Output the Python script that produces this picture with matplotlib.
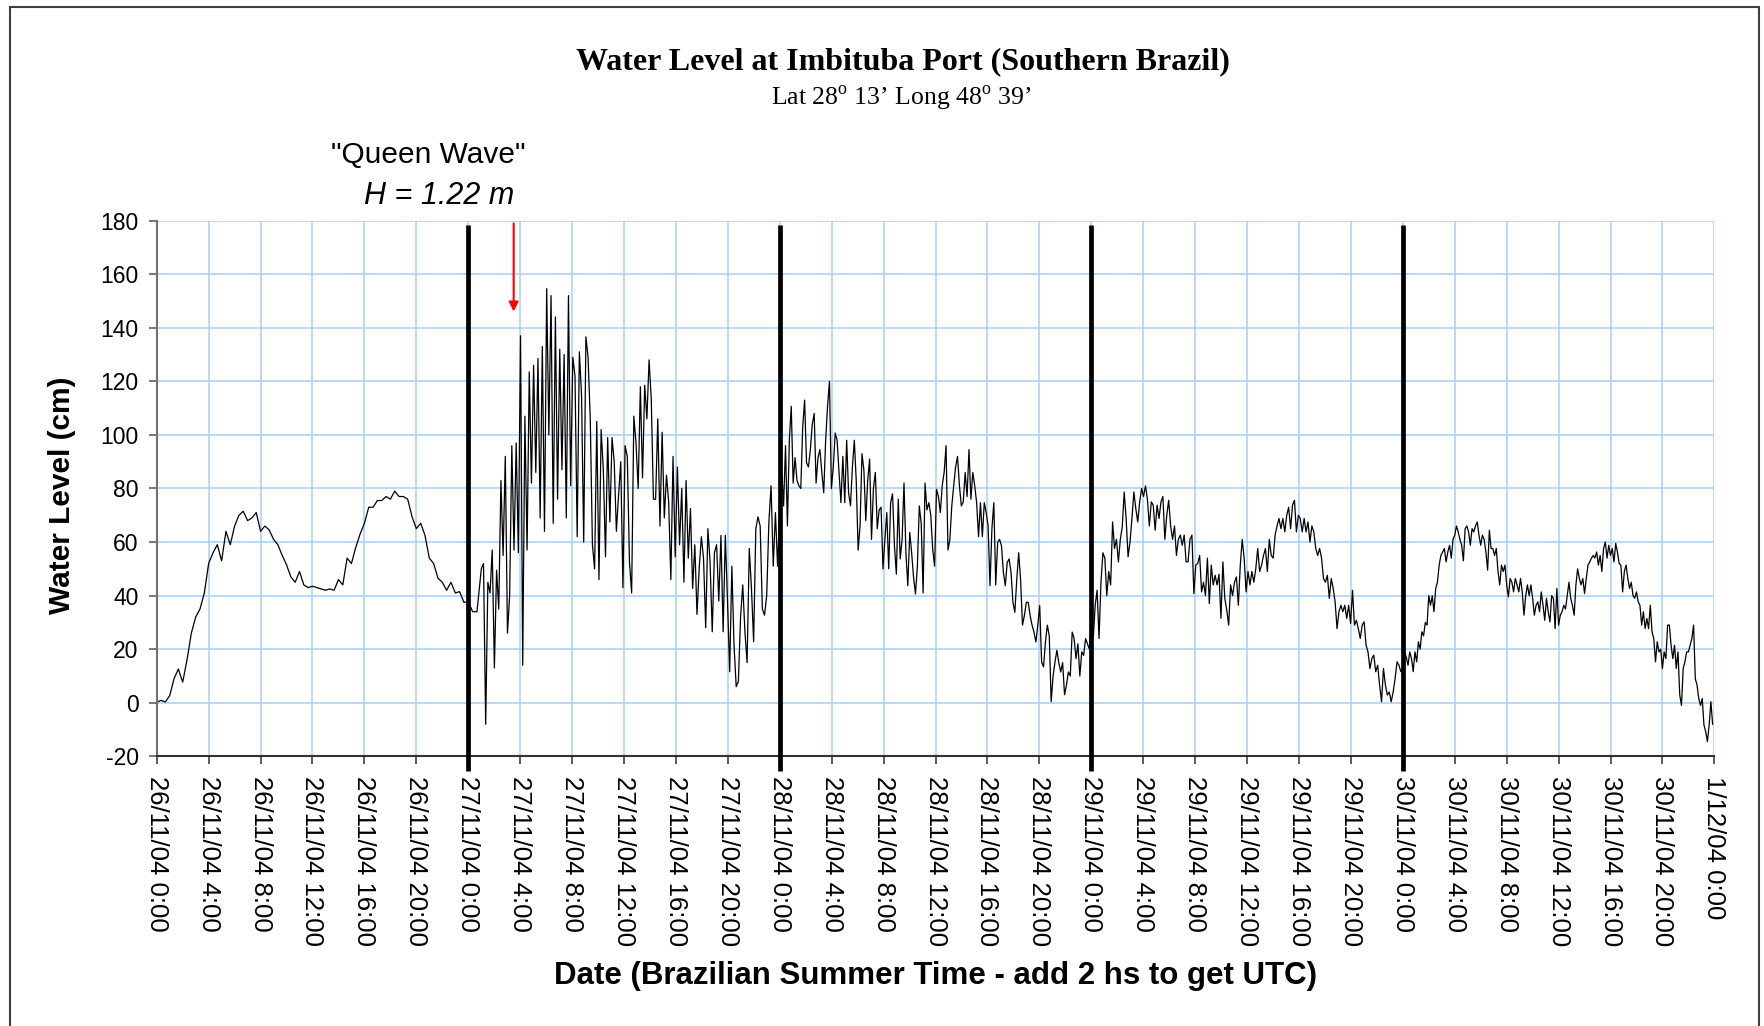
import numpy as np
import matplotlib
matplotlib.use("Agg")
import matplotlib.pyplot as plt
from matplotlib.patches import Rectangle

plt.rcParams['font.family'] = ['Liberation Sans', 'DejaVu Sans']
plt.rcParams['mathtext.fontset'] = 'custom'
plt.rcParams['mathtext.rm'] = 'Liberation Serif'
plt.rcParams['axes.unicode_minus'] = False

# water level readings (cm), each list spans one day from 0:00 to 24:00
level_26 = [0.2, 0.9, 0.3, 2.7, 9, 12.6, 7.7, 16, 26, 32, 35, 41, 52, 56, 59, 53, 64, 59,
            66, 70, 71.5, 68, 69, 71, 64, 66, 64.5, 61, 59, 55, 51.5, 47, 45, 49, 44, 43,
            43.5, 43, 42.5, 42, 42.5, 42, 46, 44, 54, 52, 58, 63, 67, 73, 73, 75.5, 75.5, 77,
            76, 79, 77, 77, 76, 69.5, 65, 67, 62.5, 54, 52, 46.5, 45, 42, 45, 41, 41.5, 37.5]

level_27 = [37.7, 36, 34, 34, 34, 42, 50, 52, -8, 45, 41, 57, 13, 49.5, 35, 83, 55, 92, 26,
            40, 96, 57, 97, 56, 137, 14, 107, 57, 123.5, 82, 126, 86, 128.5, 69, 133, 64,
            154.6, 100, 152, 67, 144, 76, 132, 87, 130, 69, 152, 81, 129, 122, 62, 131, 115,
            60, 136.6, 129, 106, 59, 50, 105, 46, 102, 87, 54.5, 99, 67.5, 99, 90, 64, 77.5,
            90, 43, 96, 92, 52.6, 41, 107, 97, 80, 118, 84, 118.5, 106, 128, 113.5, 76, 76,
            106, 66, 101, 69, 85, 75, 46, 92, 54.5, 88, 59, 80, 45, 83, 54, 72.5, 42.7, 59,
            33, 50, 62, 54, 28, 65, 52.6, 26.5, 56, 59, 38, 62.5, 26.5, 62.5, 38, 11.6, 51,
            21.5, 6, 8, 32, 44, 26.5, 15, 57.6, 42.7, 22.8, 65, 69.4, 66, 35, 32.7, 40, 67.5,
            81, 51, 71, 51]

level_28 = [73.5, 87, 73.5, 96, 66, 98, 110.7, 82, 91.5, 83, 81, 80, 103, 113, 89.6, 88,
            94.5, 104, 108, 82, 91.5, 94.5, 86, 78.4, 98, 110.7, 120, 80, 88, 100.7, 98, 86,
            74.7, 92, 74.7, 98, 78.4, 73.5, 88, 98, 83, 57, 66, 93, 87, 68, 83, 91, 61, 80,
            86, 65, 72, 73, 50, 61, 71, 50, 74.7, 78, 58.6, 48, 76, 53.7, 61, 82, 56, 43.7,
            63.6, 56, 46.8, 40.6, 51, 73.5, 67, 41, 82, 72, 74.7, 70, 57.4, 51, 79.7, 77, 71,
            81, 86, 96, 57, 61, 73.5, 81, 88, 92, 81, 73.5, 75, 86, 77, 94.5, 76, 86, 81,
            74.7, 62, 74.7, 62, 74.7, 71, 66, 43.7, 65, 74.7, 44, 60, 61, 58.6, 48.7, 43.7,
            52.4, 53.7, 48.7, 37.5, 33.8, 46, 56, 46, 29, 32.6, 37.5, 37.5, 32.6, 29, 26.4,
            22.7, 29, 36.3, 15.2, 13.4, 22.7, 29, 25, 0.4, 10, 15.2, 19.6, 15, 11.5, 15, 3,
            6.6, 11.5, 10, 26.4, 24, 16.5, 22, 10, 19, 17.7, 24, 22, 20]

level_29 = [29, 24, 36.4, 42, 24, 45, 56, 54, 40, 49, 44, 67.5, 57.6, 61, 52.6, 61, 65.7,
            78.7, 68.8, 54.5, 60, 68.8, 78.7, 72.5, 67.5, 75, 80, 77, 81, 76, 66, 75, 73.8,
            64.4, 73.8, 68.8, 75, 77, 61, 70, 75.6, 66, 61, 66, 55, 61, 62.6, 58.8, 62.6,
            52.6, 52.6, 61, 62.6, 40.8, 51.4, 52, 55, 41.4, 45, 40, 54, 37, 51.4, 44, 47.6,
            44, 48, 31.5, 52.6, 39, 34.6, 29, 44, 40, 45, 47, 36.4, 51.4, 61, 54, 41.4, 49,
            44, 49, 45, 50, 57.6, 49, 51.4, 55, 57.6, 49, 61, 55, 54, 62.6, 66, 68.8, 65,
            68.8, 63.8, 70, 73, 65, 73.8, 75.6, 63.8, 70, 68.8, 63.8, 68.8, 63.8, 67.5, 60,
            66, 63.8, 57.6, 55, 57.6, 54, 46.4, 45, 47.6, 39, 46.4, 42.7, 37.7, 27.7, 34,
            36.4, 34, 36.4, 31.5, 36.4, 29.6, 42, 29, 30.8, 27.7, 24, 29, 30.2, 21.5, 19,
            12.8, 16.5, 17.8, 11.6, 14, 6.6, 0.4, 12.8, 6.6, 2.9, 4, 0.4, 4, 9, 15.3, 14, 11.6]

level_30 = [12.8, 19, 17, 14, 19, 16.5, 11.6, 19, 15.3, 22.8, 20, 26.5, 25, 30, 29, 40, 36.4,
            40, 34, 42.7, 45, 51.4, 55, 56.3, 57.6, 52.6, 56.3, 58.8, 54, 61, 62.6, 66, 63.8,
            61, 58.8, 53, 65, 66, 63.8, 58.8, 65, 63.8, 66, 67.5, 62.6, 58.8, 62.6, 61, 56.3,
            49.5, 64.4, 57.6, 57.6, 55, 57.6, 49, 44, 51.4, 49, 51.4, 44, 39.5, 46.4, 45,
            41.4, 46.4, 44, 41.4, 46.4, 41.4, 32.7, 40, 44, 40, 44, 39, 32.7, 36.4, 37.7, 34,
            41.4, 36.4, 30.8, 39, 34, 30.2, 40, 39, 27.7, 42.7, 29, 32.7, 34, 36.4, 35, 40,
            45, 39, 36.4, 32.7, 44, 50, 46.4, 44, 46.4, 40.8, 46.4, 51.4, 52.6, 54, 55, 54,
            56.3, 51.4, 55, 49, 57.6, 60, 54, 58.8, 55, 57.6, 52.6, 59.5, 56.3, 52, 51.4,
            41.4, 49, 51.4, 46.4, 42.7, 45, 40, 39, 41.4, 37.7, 36.4, 29, 34, 27.7, 31.5,
            27.7, 36.4, 26.5, 24, 15.3, 22.8, 19, 20, 12.8, 19, 16.5, 29, 29, 21.5, 16.5,
            21.5, 12.8, 19, 3, -1, 12.8, 15.3, 19, 19, 21.5, 24, 29, 9, 6.6, 1.6, -1, 1.6,
            -8.3, -10.8, -14.5, -8.3, 0.4, -8]

days = ['26/11/04', '27/11/04', '28/11/04', '29/11/04', '30/11/04']
tick_hours = [0, 4, 8, 12, 16, 20]
last_label = '1/12/04 0:00'
day_breaks = [24, 48, 72, 96]
queen_hour = 27.5

# build time axis (hours since 26/11/04 0:00)
t_parts, y_parts = [], []
for i, lev in enumerate([level_26, level_27, level_28, level_29, level_30]):
    t_parts.append(np.linspace(24 * i, 24 * (i + 1), len(lev), endpoint=False))
    y_parts.append(np.array(lev, dtype=float))
t = np.concatenate(t_parts)
y = np.concatenate(y_parts)

tick_pos = [24 * i + h for i in range(len(days)) for h in tick_hours] + [120]
tick_lab = [f'{d} {h}:00' for d in days for h in tick_hours] + [last_label]

fig = plt.figure(figsize=(17.65, 10.26), dpi=100)
ax = fig.add_axes([0.0888, 0.2628, 0.8825, 0.5222])

ax.plot(t, y, color='black', lw=0.9)

ax.set_xlim(0, 120)
ax.set_ylim(-20, 180)
ax.set_yticks(np.arange(-20, 181, 20))
ax.set_xticks(tick_pos)
ax.set_xticklabels(tick_lab, rotation=-90, fontsize=18.5)
ax.tick_params(axis='y', labelsize=16.5, length=6, width=1.2, direction='out', pad=7, color='#606060')
ax.tick_params(axis='x', length=6, width=1.2, direction='out', pad=8, color='#404040')
ax.grid(True, color='#A8CFF5', lw=1.1)
ax.set_axisbelow(True)
for s in ['top', 'right']:
    ax.spines[s].set_visible(False)
ax.spines['left'].set_color('#707070')
ax.spines['left'].set_linewidth(1.5)
ax.spines['bottom'].set_color('#303030')
ax.spines['bottom'].set_linewidth(1.5)

# thick day separators
ax.vlines(day_breaks, -25.5, 178.5, colors='black', lw=3.4, clip_on=False, zorder=3)

# queen wave arrow
ax.annotate('', xy=(queen_hour, 145), xytext=(queen_hour, 180),
            arrowprops=dict(arrowstyle='-|>', color='red', lw=1.5, mutation_scale=14),
            annotation_clip=False)

fig.text(0.2425, 0.849, '"Queen Wave"', ha='center', va='center', fontsize=21.5)
fig.text(0.2487, 0.809, 'H = 1.22 m', ha='center', va='center', fontsize=22, style='italic')

fig.text(0.5116, 0.9396, 'Water Level at Imbituba Port (Southern Brazil)', ha='center', va='center',
         fontsize=23, fontweight='bold', family='Liberation Serif')
fig.text(0.5105, 0.9045, "Lat 28$^{\\mathrm{o}}$ 13\u2019 Long 48$^{\\mathrm{o}}$ 39\u2019", ha='center',
         va='center', fontsize=18.5, family='Liberation Serif')

fig.text(0.530, 0.0485, 'Date (Brazilian Summer Time - add 2 hs to get UTC)', ha='center', va='center',
         fontsize=22.5, fontweight='bold')
fig.text(0.0351, 0.5175, 'Water Level (cm)', ha='center', va='center', rotation=90,
         fontsize=21.5, fontweight='bold')

fig.patches.append(Rectangle((0.00567, -0.02), 0.991, 1.0132, transform=fig.transFigure,
                             fill=False, edgecolor='#404040', lw=1.5))

fig.savefig('out.png', dpi=100)
